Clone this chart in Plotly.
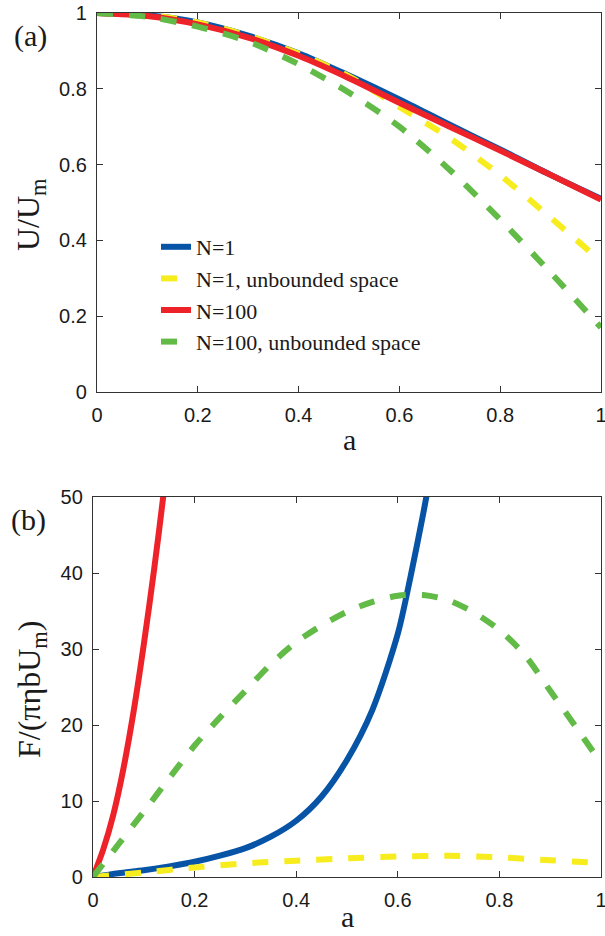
import plotly.graph_objects as go

# ---------------- data ----------------
a_top = [0, 0.1, 0.2, 0.3, 0.4, 0.5, 0.6, 0.7, 0.8, 0.9, 1.0]
u_n1 = [1, 0.994, 0.975, 0.94, 0.894, 0.835, 0.772, 0.705, 0.64, 0.573, 0.51]
u_n1_unb = [1, 0.995, 0.975, 0.94, 0.893, 0.833, 0.752, 0.67, 0.572, 0.46, 0.345]
u_n100 = [1, 0.992, 0.97, 0.935, 0.887, 0.828, 0.763, 0.70, 0.637, 0.573, 0.508]
u_n100_unb = [1, 0.99, 0.964, 0.925, 0.865, 0.79, 0.70, 0.586, 0.455, 0.315, 0.17]

a_f_n1 = [0, 0.05, 0.1, 0.15, 0.2, 0.25, 0.3, 0.35, 0.4, 0.45, 0.5, 0.55, 0.6, 0.625, 0.65, 0.675]
f_n1 = [0, 0.5, 0.9, 1.4, 2.0, 2.8, 3.8, 5.3, 7.4, 10.6, 15.4, 22.0, 32.0, 39.5, 47.8, 57]

a_f_n1_unb = [0, 0.1, 0.2, 0.3, 0.4, 0.5, 0.6, 0.7, 0.8, 0.9, 1.0]
f_n1_unb = [0, 0.6, 1.25, 1.8, 2.15, 2.45, 2.7, 2.78, 2.6, 2.2, 1.85]

a_f_n100 = [0, 0.02, 0.04, 0.06, 0.08, 0.1, 0.12, 0.14, 0.15]
f_n100 = [0, 3.6, 8.2, 14.3, 21.8, 30.6, 40.3, 51.0, 57]

a_f_n100_unb = [0, 0.05, 0.1, 0.15, 0.2, 0.25, 0.3, 0.35, 0.4, 0.45, 0.5, 0.55,
                0.6, 0.65, 0.7, 0.75, 0.8, 0.85, 0.9, 0.95, 1.0]
f_n100_unb = [0, 4.3, 8.6, 13.0, 17.3, 21.0, 24.5, 28.0, 30.9, 33.1, 34.9, 36.2,
              37.0, 37.1, 36.4, 34.8, 32.5, 29.2, 24.5, 19.8, 15.0]

x_ticks = [0, 0.2, 0.4, 0.6, 0.8, 1]
x_tick_text = ["0", "0.2", "0.4", "0.6", "0.8", "1"]
u_ticks = [0, 0.2, 0.4, 0.6, 0.8, 1]
u_tick_text = ["0", "0.2", "0.4", "0.6", "0.8", "1"]
f_ticks = [0, 10, 20, 30, 40, 50]
f_tick_text = ["0", "10", "20", "30", "40", "50"]

names = ["N=1", "N=1, unbounded space", "N=100", "N=100, unbounded space"]

# ---------------- styles ----------------
BLUE = "#0754A6"
YELLOW = "#F7EC1E"
RED = "#EE2229"
GREEN = "#62BA47"
DASH = "16px,16px"
W = 6

W_PX, H_PX = 605, 936
SERIF = "Liberation Serif, Times New Roman, serif"
SANS = "Liberation Sans, Arial, Helvetica, sans-serif"

fig = go.Figure()

def add(x, y, color, dash, name, xa, ya, show, group):
    fig.add_trace(go.Scatter(
        x=x, y=y, mode="lines", name=name, legendgroup=group,
        showlegend=show, xaxis=xa, yaxis=ya,
        line=dict(color=color, width=W, dash=dash, shape="spline", smoothing=0.8),
        hoverinfo="skip"))

# top panel
add(a_top, u_n1, BLUE, "solid", names[0], "x", "y", True, "g1")
add(a_top, u_n1_unb, YELLOW, DASH, names[1], "x", "y", True, "g2")
add(a_top, u_n100, RED, "solid", names[2], "x", "y", True, "g3")
add(a_top, u_n100_unb, GREEN, DASH, names[3], "x", "y", True, "g4")
# bottom panel
add(a_f_n1, f_n1, BLUE, "solid", names[0], "x2", "y2", False, "g1")
add(a_f_n1_unb, f_n1_unb, YELLOW, DASH, names[1], "x2", "y2", False, "g2")
add(a_f_n100, f_n100, RED, "solid", names[2], "x2", "y2", False, "g3")
add(a_f_n100_unb, f_n100_unb, GREEN, DASH, names[3], "x2", "y2", False, "g4")

def px_x(p):
    return p / W_PX

def px_y(p):
    return 1 - p / H_PX

axis_common = dict(
    showgrid=False, zeroline=False, showline=True, linecolor="#333333", linewidth=1.3,
    mirror="ticks", ticks="inside", ticklen=6, tickwidth=1, tickcolor="#333333",
    tickfont=dict(family=SANS, size=20, color="#1a1a1a"), automargin=False,
    fixedrange=True, ticklabeloverflow="allow",
)

fig.update_layout(
    width=W_PX, height=H_PX,
    margin=dict(l=0, r=0, t=0, b=0),
    paper_bgcolor="white", plot_bgcolor="white",
    xaxis=dict(domain=[px_x(97), px_x(601)], range=[0, 1], anchor="y",
               tickvals=x_ticks, ticktext=x_tick_text,
               ticklabelstandoff=5, **axis_common),
    yaxis=dict(domain=[px_y(392), px_y(13)], range=[0, 1], anchor="x",
               tickvals=u_ticks, ticktext=u_tick_text,
               ticklabelstandoff=5, **axis_common),
    xaxis2=dict(domain=[px_x(93), px_x(601)], range=[0, 1], anchor="y2",
                tickvals=x_ticks, ticktext=x_tick_text,
                ticklabelstandoff=5, **axis_common),
    yaxis2=dict(domain=[px_y(877), px_y(497)], range=[0, 50], anchor="x2",
                tickvals=f_ticks, ticktext=f_tick_text,
                ticklabelstandoff=5, **axis_common),
    legend=dict(x=px_x(156), y=px_y(226), xanchor="left", yanchor="top",
                bgcolor="rgba(0,0,0,0)", borderwidth=0,
                font=dict(family=SERIF, size=22, color="#1a1a1a"),
                traceorder="grouped", tracegroupgap=0),
    showlegend=True,
)

def ann(text, x, y, size, angle=0):
    fig.add_annotation(text=text, x=px_x(x), y=px_y(y), xref="paper", yref="paper",
                       xanchor="center", yanchor="middle", showarrow=False,
                       textangle=angle,
                       font=dict(family=SERIF, size=size, color="#1a1a1a"))

ann("(a)", 30, 36, 30)
ann("(b)", 28, 520, 30)
ann("a", 349, 439, 30)
ann("a", 347, 916, 30)
ann("U/U<sub>m</sub>", 31, 215, 32, -90)
ann("F/(πηbU<sub>m</sub>)", 31, 690, 32, -90)

fig.write_html("out.html")
